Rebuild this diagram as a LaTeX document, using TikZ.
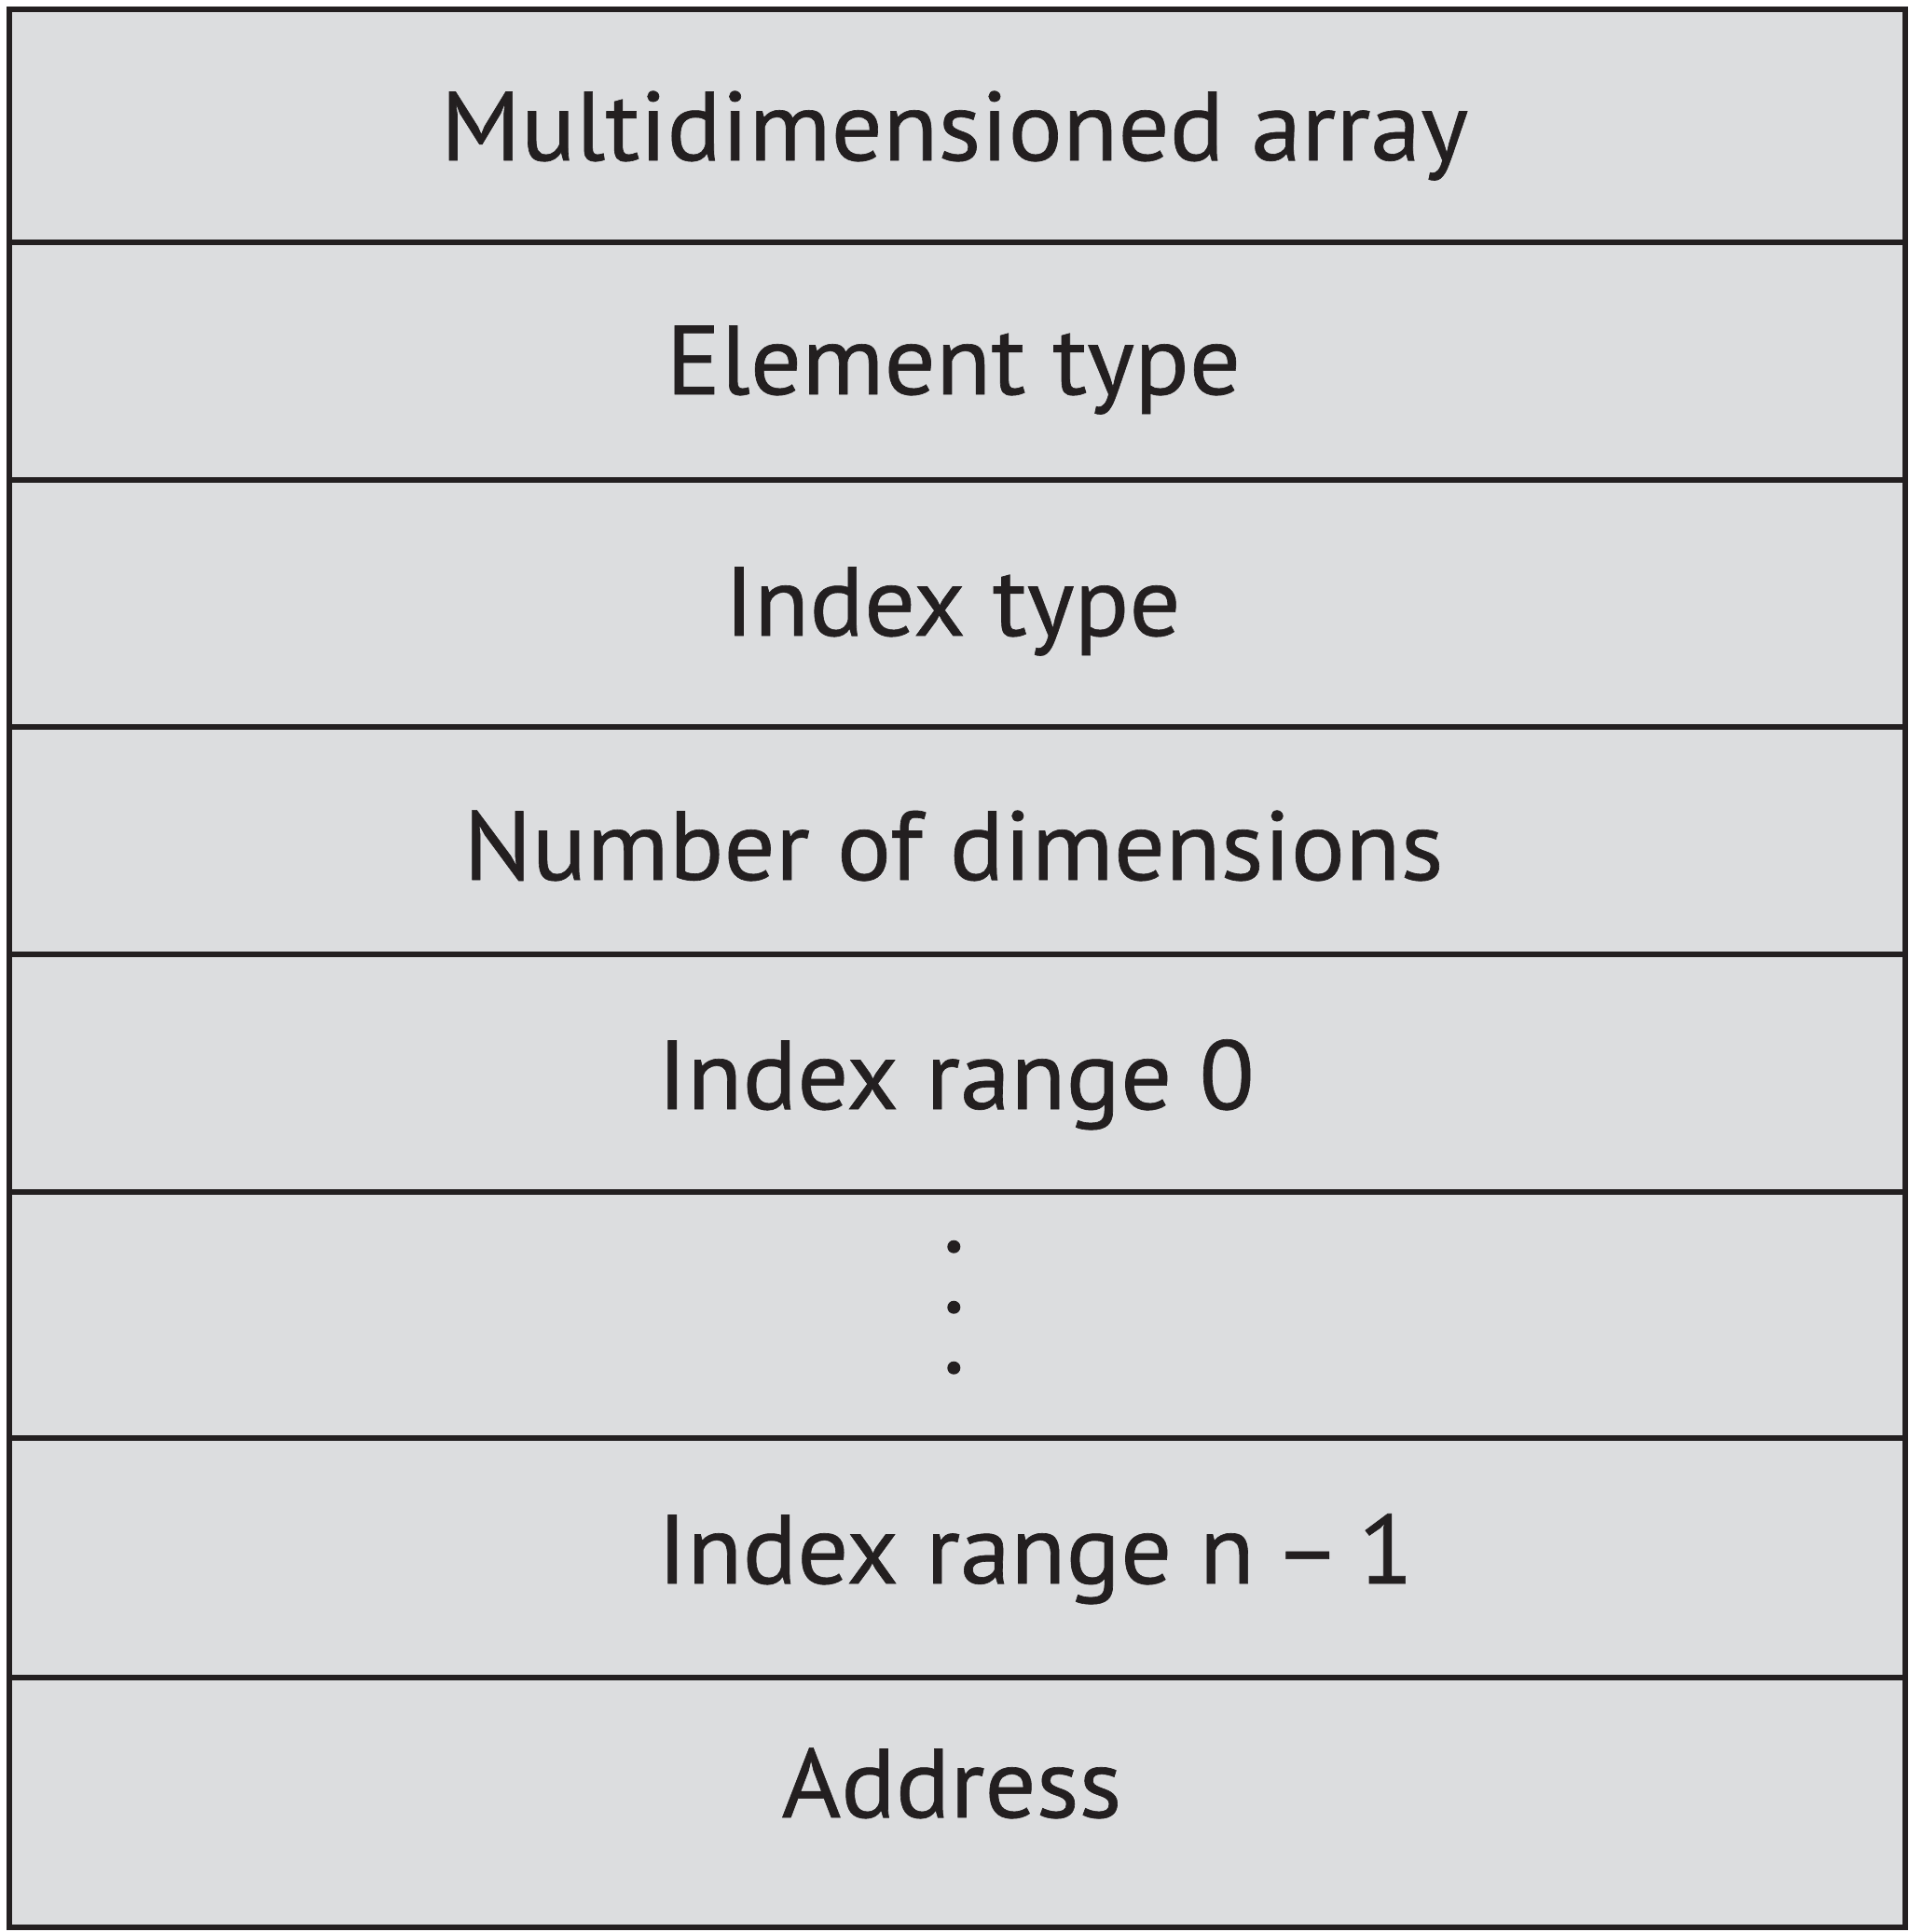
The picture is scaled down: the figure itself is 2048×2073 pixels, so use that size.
\documentclass[tikz,border=0pt]{standalone}
\usepackage{fontspec}
\setmainfont{PT Sans}[FakeStretch=1.037,FakeBold=0.6]
\definecolor{cellfill}{HTML}{DCDDDF}
\definecolor{ink}{HTML}{231F20}
\begin{document}
\begin{tikzpicture}[x=0.5pt,y=-0.5pt,
  rule/.style={draw=ink,line width=3pt},
  cell/.style={rule,fill=cellfill},
  lbl/.style={anchor=base,inner sep=0pt,text=ink,font=\fontsize{52.5}{60}\selectfont},
  dotmark/.style={circle,fill=ink,inner sep=0pt,minimum size=7pt}]
\useasboundingbox (0,0) rectangle (2048,2073);
% record rows, top to bottom
\node[cell,anchor=north west,minimum width=1017pt,minimum height=125pt] (r1) at (6.5,6.5) {};
\node[cell,anchor=north west,minimum width=1017pt,minimum height=127.5pt] (r2) at (6.5,257) {};
\node[cell,anchor=north west,minimum width=1017pt,minimum height=132.5pt] (r3) at (6.5,512) {};
\node[cell,anchor=north west,minimum width=1017pt,minimum height=122pt] (r4) at (6.5,777) {};
\node[cell,anchor=north west,minimum width=1017pt,minimum height=127.5pt] (r5) at (6.5,1021) {};
\node[cell,anchor=north west,minimum width=1017pt,minimum height=132pt] (r6) at (6.5,1276) {};
\node[cell,anchor=north west,minimum width=1017pt,minimum height=128.5pt] (r7) at (6.5,1540) {};
\node[cell,anchor=north west,minimum width=1017pt,minimum height=134pt] (r8) at (6.5,1797) {};
% field labels
\node[lbl] (t1) at (1024,172) {Multidimensioned array};
\node[lbl] (t2) at (1023,423) {Element type};
\node[lbl] (t3) at (1022,682) {Index type};
\node[lbl] (t4) at (1023,944) {Number of dimensions};
\node[lbl,anchor=base west] (t5) at (705,1190) {Index range 0};
\node[lbl,anchor=base west] (t7) at (705,1699) {Index range n\kern-0.08em{} – \kern-0.1em{}1};
\node[lbl] (t8) at (1021,1950) {Address};
% vertical ellipsis
\node[dotmark] (d1) at (1023.3,1337.7) {};
\node[dotmark] (d2) at (1023.3,1402.7) {};
\node[dotmark] (d3) at (1023.3,1467.7) {};
\end{tikzpicture}
\end{document}
